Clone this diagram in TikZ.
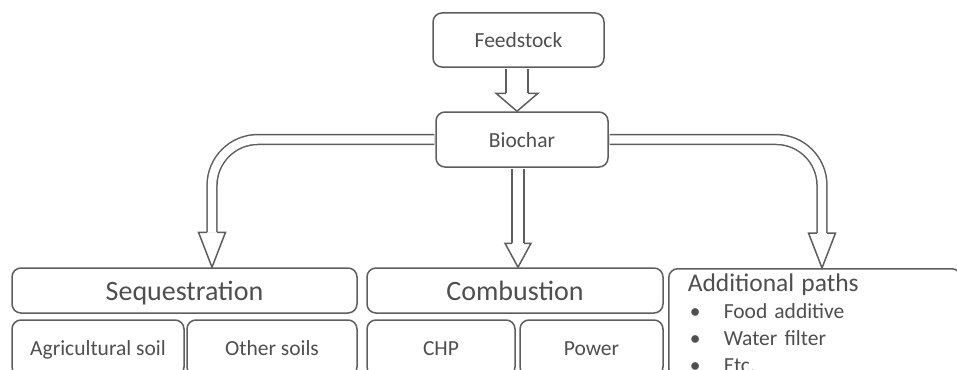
\documentclass[tikz,border=0pt]{standalone}
\usepackage{fontspec}
\setmainfont{Carlito}
\usepackage{tikz}
\definecolor{linegray}{HTML}{5E5E5E}
\definecolor{textgray}{HTML}{4F4F4F}
\tikzset{box/.style={draw=linegray, line width=1.5pt, rounded corners=9pt, fill=white, text=textgray, inner sep=0pt},
  small/.style={font=\fontsize{21.5}{25}\selectfont, text height=15.5pt, text depth=0pt},
  big/.style={font=\fontsize{28}{32}\selectfont, text height=19.5pt, text depth=0pt},
  shaft/.style={draw=linegray, line width=1.5pt, double=white, rounded corners=46pt},
  headline/.style={draw=linegray, line width=1.5pt, fill=white, line join=miter}}
\newcommand{\blockhead}[4]{%
  \draw[headline] ([shift={(-#2pt,#4pt)}]#1) -- ([shift={(-#3pt,#4pt)}]#1) -- (#1)
    -- ([shift={(#3pt,#4pt)}]#1) -- ([shift={(#2pt,#4pt)}]#1);}
\newcommand{\bul}{\hspace*{2pt}\makebox[34pt][l]{\textbullet}}

\begin{document}
\begin{tikzpicture}[x=1pt,y=-1pt]
      \clip (0,0) rectangle (957,369);
      \fill[white] (0,0) rectangle (957,369);

      \node[box, small, minimum width=171pt, minimum height=54pt] (feed) at (518.5, 40) {Feedstock};
      \node[box, small, minimum width=172pt, minimum height=55pt] (bio) at (522, 139.5) {Biochar};

      \node[box, big, minimum width=345pt, minimum height=45pt] (seq) at (184.5, 290.5) {Sequestration};
      \node[box, big, minimum width=296pt, minimum height=45pt] (comb) at (515, 290.5) {Combustion};

      \node[box, small, minimum width=172pt, minimum height=56pt] (agri) at (98, 348) {Agricultural soil};
      \node[box, small, minimum width=170pt, minimum height=56pt] (other) at (272, 348) {Other soils};
      \node[box, small, minimum width=148pt, minimum height=56pt] (chp) at (441, 348) {CHP};
      \node[box, small, minimum width=143pt, minimum height=56pt] (power) at (591.5, 348) {Power};

      \node[box, anchor=north west, align=left, text width=254pt, inner xsep=19pt, inner ysep=5pt,
        font=\fontsize{21.5}{27}\selectfont] (add) at (668, 268)
        {{\fontsize{25.5}{27}\selectfont Additional paths}\\
         \bul Food additive\\
         \bul Water filter\\
         \bul Etc.};

      \coordinate (t0) at (517,0 |- bio.north);
      \coordinate (t1) at (212,0 |- seq.north);
      \coordinate (t2) at (518,0 |- comb.north);
      \coordinate (t3) at (822,0 |- add.north);

      \draw[shaft, double distance=20.4pt] ([yshift=-0.8pt]t0 |- feed.south) -- ([yshift=18pt]t0);
      \blockhead{t0}{11}{21}{18}
      \draw[shaft, double distance=8.4pt] ([xshift=-0.8pt]bio.west) -| ([yshift=35pt]t1);
      \blockhead{t1}{5}{13.5}{35}
      \draw[shaft, double distance=10.5pt] ([yshift=-0.8pt]t2 |- bio.south) -- ([yshift=24pt]t2);
      \blockhead{t2}{6}{13}{24}
      \draw[shaft, double distance=8.4pt] ([xshift=0.8pt]bio.east) -| ([yshift=35pt]t3);
      \blockhead{t3}{5}{13.5}{35}
    \end{tikzpicture}
\end{document}
